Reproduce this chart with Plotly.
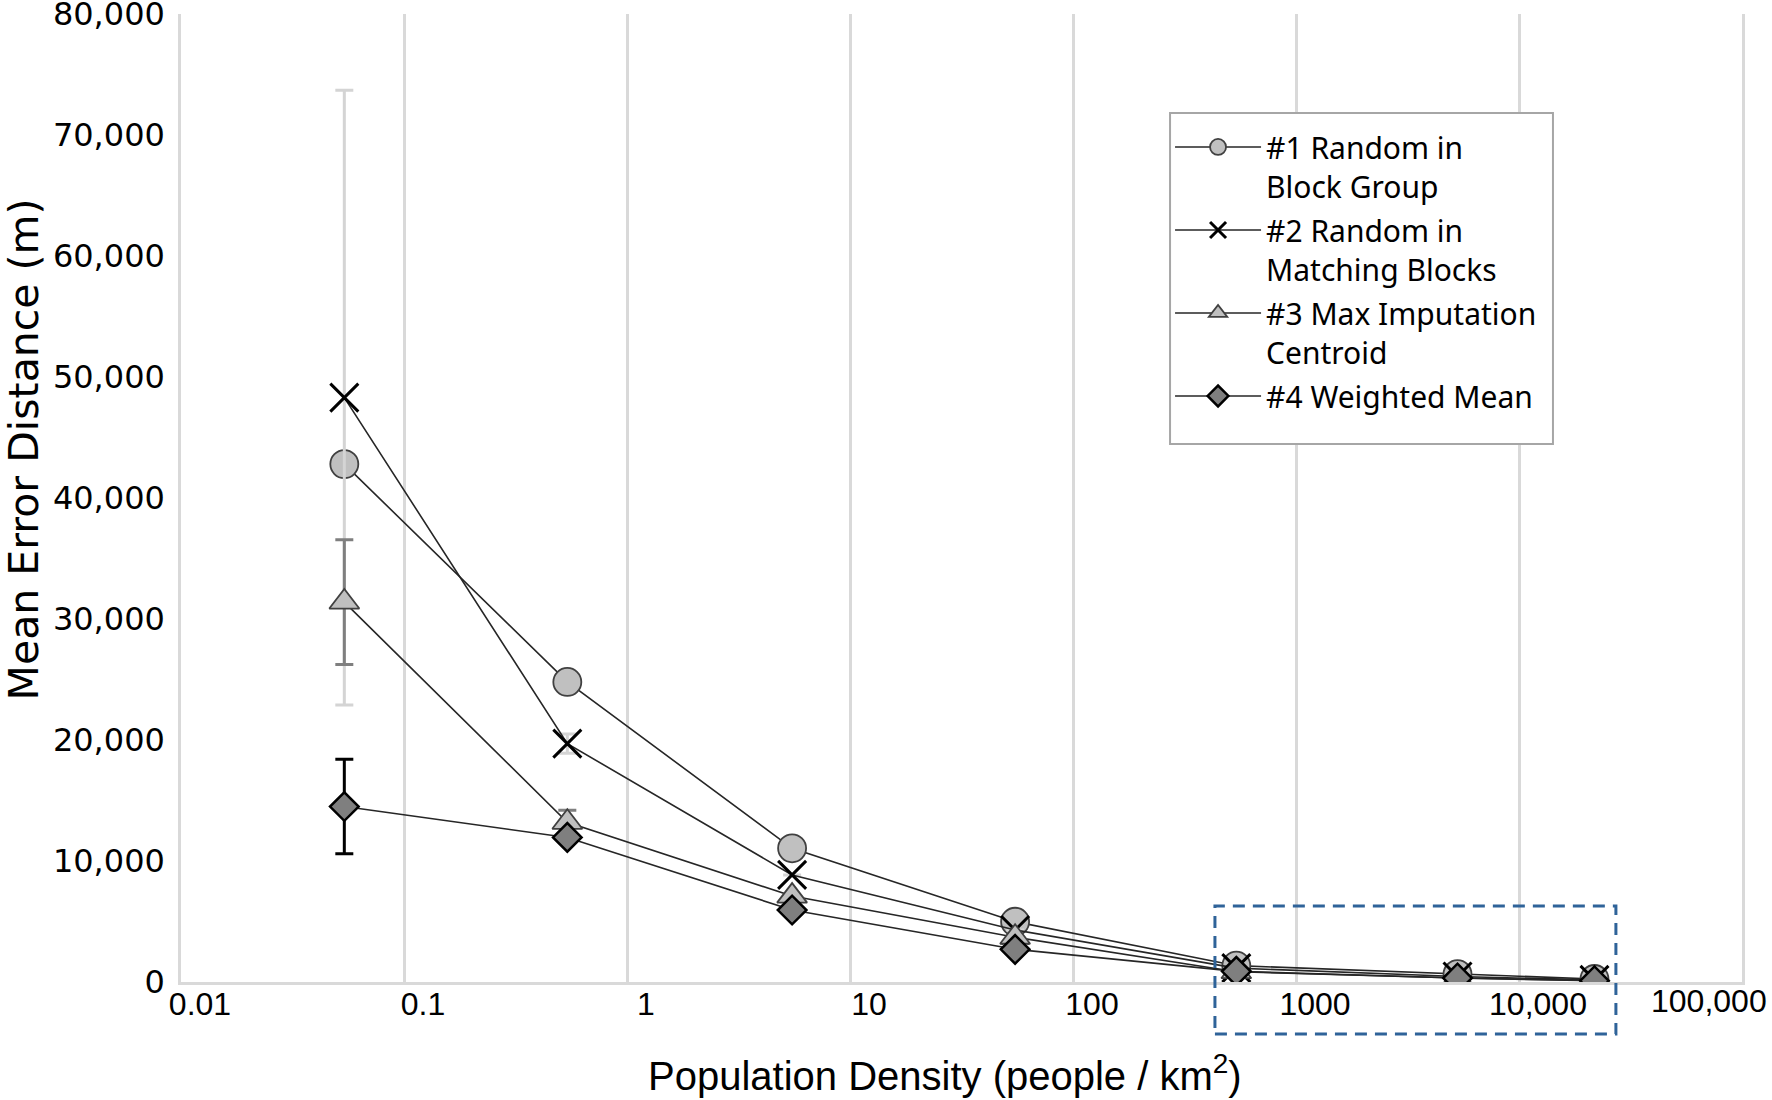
import plotly.graph_objects as go

# ---- data ----
density = [0.054, 0.54, 5.5, 55, 540, 5300, 21800]

s1_name = "#1 Random in<br>Block Group"
s1_vals = [42800, 24800, 11050, 4980, 1350, 650, 250]

s2_name = "#2 Random in<br>Matching Blocks"
s2_vals = [48300, 19700, 8850, 4300, 1150, 450, 180]
s2_err = [25400, 800, 0, 0, 0, 0, 0]

s3_name = "#3 Max Imputation<br>Centroid"
s3_vals = [31400, 13200, 7100, 3700, 850, 330, 120]
s3_err = [5150, 1000, 0, 0, 0, 0, 0]

s4_name = "#4 Weighted Mean"
s4_vals = [14500, 11950, 5950, 2700, 880, 330, 100]
s4_err = [3900, 0, 0, 0, 0, 0, 0]

x_tickvals = [0.01, 0.1, 1, 10, 100, 1000, 10000, 100000]
x_ticktext = ["0.01", "0.1", "1", "10", "100", "1000", "10,000", ""]
x_last_label = "100,000"

# highlighted region (density range of the dashed box)
box_x_range = [433, 27200]

fig = go.Figure()

line_style = dict(color="#262626", width=1.6)

fig.add_trace(go.Scatter(
    x=density, y=s1_vals, name=s1_name, mode="lines+markers",
    line=line_style, legendgroup="g1",
    marker=dict(symbol="circle", size=28, color="#c0c0c0",
                line=dict(color="#404040", width=1.8)),
))
fig.add_trace(go.Scatter(
    x=density, y=s2_vals, name=s2_name, mode="lines+markers",
    line=line_style, legendgroup="g2",
    marker=dict(symbol="x-thin", size=28, color="#000000",
                line=dict(color="#000000", width=3)),
    error_y=dict(type="data", array=s2_err, color="#d4d4d4", thickness=3, width=9),
))
fig.add_trace(go.Scatter(
    x=density, y=s3_vals, name=s3_name, mode="lines+markers",
    line=line_style, legendgroup="g3",
    marker=dict(symbol="triangle-up", size=26, color="#bfbfbf",
                line=dict(color="#404040", width=1.8)),
    error_y=dict(type="data", array=s3_err, color="#7f7f7f", thickness=3, width=9),
))
fig.add_trace(go.Scatter(
    x=density, y=s4_vals, name=s4_name, mode="lines+markers",
    line=line_style, legendgroup="g4",
    marker=dict(symbol="diamond", size=22, color="#7f7f7f",
                line=dict(color="#000000", width=2.5)),
    error_y=dict(type="data", array=s4_err, color="#000000", thickness=3, width=9),
))

# dashed highlight box
fig.add_shape(
    type="rect", xref="x", yref="paper",
    x0=box_x_range[0], x1=box_x_range[1],
    y0=-0.0537, y1=0.0785,
    line=dict(color="#2f6399", width=3, dash="12px,8px"),
    fillcolor="rgba(0,0,0,0)", layer="above",
)
# legend frame
fig.add_shape(
    type="rect", xref="paper", yref="paper",
    x0=0.6336, x1=0.8789, y0=0.5558, y1=0.8977,
    line=dict(color="#a6a6a6", width=2),
    fillcolor="white", layer="above",
)

x_tick_font = dict(family="Liberation Sans Narrow, Liberation Sans, sans-serif", size=32, color="#000000")

fig.update_layout(
    width=1772, height=1100,
    margin=dict(l=181, r=30, t=14, b=118),
    paper_bgcolor="white", plot_bgcolor="white",
    showlegend=True,
    legend=dict(
        x=0.6336, y=0.8895, xanchor="left", yanchor="top",
        bgcolor="rgba(0,0,0,0)", borderwidth=0,
        font=dict(family="Noto Sans", size=30, color="#000000"),
        valign="top", tracegroupgap=2, itemwidth=86,
    ),
    xaxis=dict(
        type="log", range=[-2, 5], automargin=False,
        tickvals=x_tickvals, ticktext=x_ticktext,
        showgrid=True, gridcolor="#d9d9d9", gridwidth=2.5,
        showline=True, linecolor="#d9d9d9", linewidth=3,
        ticks="", ticklabelshift=19, ticklabelstandoff=-8,
        ticklabeloverflow="allow",
        tickfont=x_tick_font,
        zeroline=False,
    ),
    yaxis=dict(
        range=[0, 80000], dtick=10000, tickformat=",", automargin=False,
        showgrid=False, showline=True, linecolor="#d9d9d9", linewidth=2.5,
        mirror=True,
        ticks="", ticklabelstandoff=7, ticklabeloverflow="allow",
        tickfont=dict(family="DejaVu Sans", size=32, color="#000000"),
        zeroline=False,
    ),
    annotations=[
        dict(text=x_last_label, xref="paper", yref="paper", x=1.0, y=-0.0196,
             xanchor="right", yanchor="middle", xshift=27, showarrow=False,
             font=x_tick_font),
        dict(text="Population Density (people / km<sup>2</sup>)",
             xref="paper", yref="paper", x=0.4894, y=-0.094,
             xanchor="center", yanchor="middle", showarrow=False,
             font=dict(family="Liberation Sans Narrow, Liberation Sans, sans-serif", size=40, color="#000000")),
        dict(text="Mean Error Distance (m)",
             xref="paper", yref="paper", x=-0.1003, y=0.5506,
             xanchor="center", yanchor="middle", showarrow=False, textangle=-90,
             font=dict(family="DejaVu Sans", size=41, color="#000000")),
    ],
)

fig.write_html("out.html", config={"displayModeBar": False},
               post_script="document.body.style.margin='0px';")
